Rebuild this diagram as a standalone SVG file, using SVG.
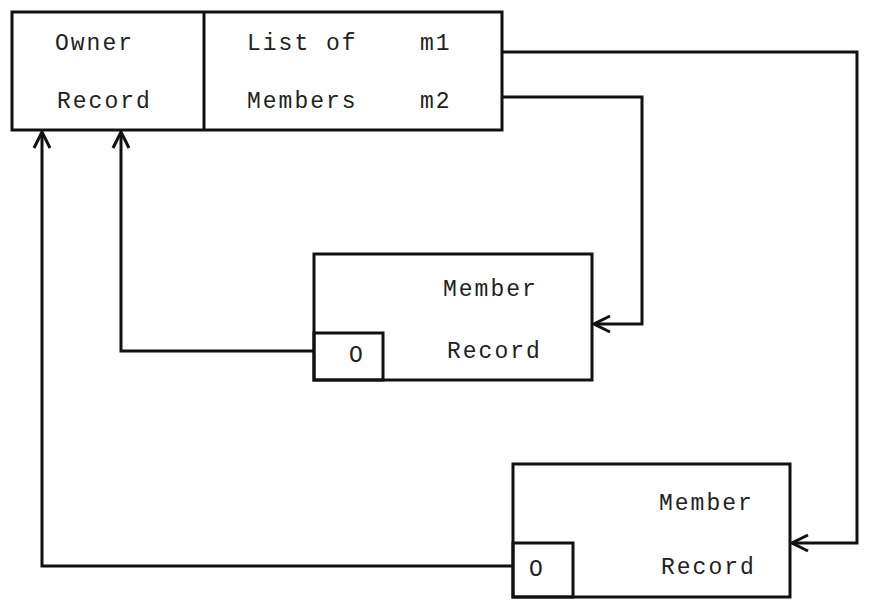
<svg xmlns="http://www.w3.org/2000/svg" width="870" height="600" viewBox="0 0 870 600">
<style>
.box{fill:none;stroke:#111;stroke-width:3}
.ln{fill:none;stroke:#111;stroke-width:3;stroke-linejoin:miter}
text{font-family:"Liberation Mono","Courier New",monospace;font-size:23px;fill:#222;letter-spacing:2px}
</style>
<defs>
<marker id="arr" viewBox="0 0 20 20" refX="18" refY="10" markerWidth="20" markerHeight="20" markerUnits="userSpaceOnUse" orient="auto">
<path d="M2,2 L18,10 L2,18" fill="none" stroke="#111" stroke-width="3"/>
</marker>
</defs>
<rect width="870" height="600" fill="#fff"/>
<g id="owner">
<rect class="box" x="12" y="12" width="490" height="118"/>
<line class="box" x1="204" y1="12" x2="204" y2="130"/>
<text x="55" y="50">Owner</text>
<text x="57" y="108">Record</text>
<text x="247" y="50">List of</text>
<text x="420" y="50">m1</text>
<text x="247" y="108">Members</text>
<text x="420" y="108">m2</text>
</g>
<g id="member1">
<rect class="box" x="314" y="254" width="278" height="126"/>
<rect class="box" x="314" y="333" width="69" height="47"/>
<text x="443" y="296">Member</text>
<text x="447" y="358">Record</text>
<text x="349" y="362">O</text>
</g>
<g id="member2">
<rect class="box" x="513" y="464" width="277" height="133"/>
<rect class="box" x="513" y="543" width="60" height="54"/>
<text x="659" y="510">Member</text>
<text x="661" y="574">Record</text>
<text x="529" y="576">O</text>
</g>
<g id="connectors">
<path class="ln" d="M502,52 H857 V543 H792" marker-end="url(#arr)"/>
<path class="ln" d="M502,97 H642 V324 H594" marker-end="url(#arr)"/>
<path class="ln" d="M314,351 H121 V132" marker-end="url(#arr)"/>
<path class="ln" d="M513,566 H42 V132" marker-end="url(#arr)"/>
</g>
</svg>
